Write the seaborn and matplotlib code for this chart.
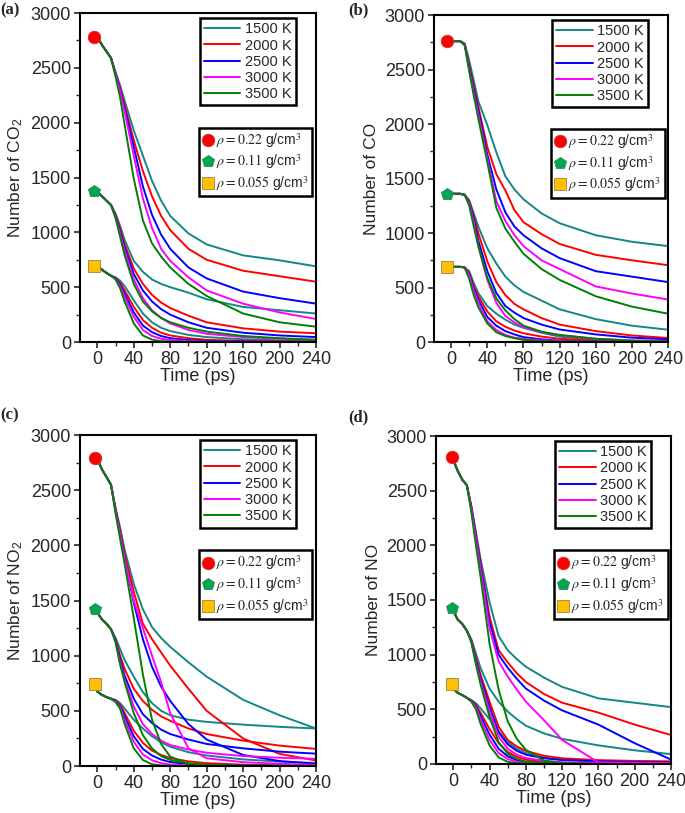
import numpy as np
import pandas as pd
import matplotlib
matplotlib.use('Agg')
import matplotlib.pyplot as plt
import seaborn as sns
from matplotlib.lines import Line2D
from matplotlib.ticker import MultipleLocator
from matplotlib.font_manager import FontProperties

# ---------------- data ----------------
time_ps = [0, 5, 10, 15, 20, 25, 30, 40, 50, 60, 70, 80, 100, 120, 160, 200, 240]
temps = ['1500 K', '2000 K', '2500 K', '3000 K', '3500 K']
densities = ['0.22', '0.11', '0.055']

# (a) CO2, rows = 1500 / 2000 / 2500 / 3000 / 3500 K
co2_rho022 = [
    [2780, 2710, 2650, 2590, 2460, 2340, 2200, 1930, 1700, 1470, 1290, 1150, 990, 890, 790, 745, 690],
    [2780, 2710, 2650, 2590, 2450, 2320, 2160, 1840, 1560, 1330, 1150, 1020, 850, 750, 650, 600, 550],
    [2780, 2710, 2650, 2590, 2450, 2300, 2130, 1780, 1420, 1160, 980, 850, 680, 580, 460, 400, 350],
    [2780, 2710, 2650, 2590, 2440, 2290, 2100, 1700, 1310, 1040, 850, 740, 590, 470, 350, 270, 210],
    [2780, 2710, 2650, 2590, 2420, 2230, 1980, 1490, 1110, 900, 780, 680, 530, 420, 260, 180, 140],
]
co2_rho011 = [
    [1370, 1330, 1290, 1250, 1170, 1060, 930, 740, 640, 570, 530, 500, 450, 390, 320, 290, 260],
    [1370, 1330, 1290, 1250, 1160, 1030, 890, 670, 530, 430, 360, 310, 240, 180, 125, 95, 80],
    [1370, 1330, 1290, 1250, 1150, 1010, 860, 620, 470, 370, 300, 250, 180, 130, 85, 60, 45],
    [1370, 1330, 1290, 1250, 1140, 990, 830, 570, 400, 290, 220, 170, 110, 75, 45, 30, 20],
    [1370, 1330, 1290, 1250, 1130, 960, 790, 530, 370, 280, 220, 180, 130, 95, 55, 35, 20],
]
co2_rho0055 = [
    [690, 660, 630, 605, 590, 560, 510, 380, 260, 180, 130, 100, 65, 45, 25, 15, 10],
    [690, 660, 630, 605, 585, 540, 470, 320, 200, 130, 85, 60, 35, 20, 10, 5, 3],
    [690, 660, 630, 605, 580, 525, 440, 270, 150, 90, 55, 35, 18, 10, 5, 2, 1],
    [690, 660, 630, 605, 575, 510, 410, 230, 110, 55, 30, 18, 8, 4, 2, 1, 0],
    [690, 660, 630, 605, 570, 490, 370, 170, 60, 22, 8, 4, 2, 1, 0, 0, 0],
]

# (b) CO
co_rho022 = [
    [2760, 2760, 2760, 2740, 2580, 2400, 2210, 1990, 1740, 1520, 1400, 1310, 1180, 1090, 980, 920, 880],
    [2760, 2760, 2760, 2730, 2540, 2350, 2160, 1790, 1540, 1390, 1210, 1100, 990, 900, 800, 750, 705],
    [2760, 2760, 2760, 2730, 2520, 2320, 2130, 1720, 1400, 1190, 1060, 980, 860, 770, 650, 600, 550],
    [2760, 2760, 2760, 2730, 2500, 2290, 2090, 1680, 1290, 1110, 980, 880, 750, 670, 510, 445, 390],
    [2760, 2760, 2760, 2720, 2480, 2260, 2050, 1650, 1230, 1040, 920, 810, 670, 570, 420, 325, 260],
]
co_rho011 = [
    [1360, 1360, 1360, 1350, 1300, 1180, 1060, 860, 720, 600, 520, 460, 380, 300, 210, 150, 113],
    [1360, 1360, 1360, 1350, 1290, 1150, 1000, 740, 550, 430, 350, 300, 220, 160, 100, 60, 37],
    [1360, 1360, 1360, 1350, 1280, 1130, 930, 650, 450, 330, 270, 220, 160, 115, 70, 40, 25],
    [1360, 1360, 1360, 1350, 1270, 1100, 880, 570, 360, 240, 180, 135, 90, 62, 30, 15, 10],
    [1360, 1360, 1360, 1350, 1250, 1060, 880, 590, 400, 290, 210, 150, 95, 65, 30, 12, 5],
]
co_rho0055 = [
    [690, 690, 690, 685, 650, 540, 450, 330, 260, 205, 160, 130, 85, 50, 20, 10, 5],
    [690, 690, 690, 685, 630, 510, 420, 280, 190, 140, 105, 80, 50, 30, 12, 5, 2],
    [690, 690, 690, 685, 620, 490, 390, 230, 150, 100, 70, 45, 25, 12, 5, 2, 1],
    [690, 690, 690, 685, 610, 470, 360, 190, 110, 65, 40, 30, 15, 8, 3, 1, 0],
    [690, 690, 690, 680, 580, 430, 320, 170, 90, 55, 35, 20, 10, 5, 2, 0, 0],
]

# (c) NO2
no2_rho022 = [
    [2780, 2690, 2620, 2550, 2340, 2160, 1960, 1650, 1420, 1260, 1160, 1080, 940, 810, 600, 460, 340],
    [2780, 2690, 2620, 2550, 2330, 2140, 1920, 1580, 1290, 1150, 1030, 910, 700, 500, 250, 110, 50],
    [2780, 2690, 2620, 2550, 2320, 2110, 1890, 1480, 1150, 900, 720, 590, 380, 240, 100, 45, 20],
    [2780, 2690, 2620, 2550, 2310, 2100, 1880, 1500, 1250, 1000, 760, 480, 160, 70, 35, 20, 10],
    [2780, 2690, 2620, 2550, 2290, 2060, 1830, 1340, 830, 420, 200, 85, 20, 5, 0, 0, 0],
]
no2_rho011 = [
    [1390, 1330, 1290, 1240, 1160, 1060, 960, 810, 670, 570, 500, 460, 420, 400, 375, 355, 340],
    [1390, 1330, 1290, 1240, 1150, 1000, 880, 700, 590, 510, 450, 410, 340, 290, 230, 185, 155],
    [1390, 1330, 1290, 1240, 1140, 970, 820, 610, 470, 390, 330, 290, 240, 200, 160, 130, 112],
    [1390, 1330, 1290, 1240, 1130, 940, 780, 540, 380, 290, 230, 190, 150, 120, 90, 75, 65],
    [1390, 1330, 1290, 1240, 1120, 920, 760, 480, 280, 160, 90, 55, 25, 12, 5, 2, 0],
]
no2_rho0055 = [
    [675, 645, 625, 610, 600, 570, 520, 420, 340, 270, 215, 175, 125, 95, 60, 40, 28],
    [675, 645, 625, 610, 595, 555, 480, 320, 210, 140, 100, 72, 42, 26, 12, 6, 3],
    [675, 645, 625, 610, 590, 545, 450, 270, 155, 95, 58, 36, 18, 9, 4, 2, 1],
    [675, 645, 625, 610, 585, 535, 420, 220, 105, 52, 26, 13, 5, 2, 1, 0, 0],
    [675, 645, 625, 610, 580, 520, 380, 160, 55, 16, 5, 2, 0, 0, 0, 0, 0],
]

# (d) NO
no_rho022 = [
    [2780, 2680, 2600, 2550, 2360, 2120, 1880, 1480, 1170, 1040, 960, 890, 790, 705, 600, 560, 520],
    [2780, 2680, 2600, 2550, 2350, 2100, 1840, 1350, 1040, 930, 830, 750, 640, 560, 470, 360, 265],
    [2780, 2680, 2600, 2550, 2340, 2080, 1820, 1300, 1000, 880, 780, 690, 580, 490, 360, 190, 40],
    [2780, 2680, 2600, 2550, 2330, 2060, 1790, 1240, 940, 800, 680, 570, 400, 220, 15, 10, 8],
    [2780, 2680, 2600, 2550, 2300, 2000, 1720, 1100, 680, 390, 230, 130, 30, 8, 0, 0, 0],
]
no_rho011 = [
    [1400, 1320, 1280, 1220, 1140, 1010, 880, 690, 570, 480, 410, 350, 280, 230, 170, 125, 90],
    [1400, 1320, 1280, 1220, 1130, 970, 820, 570, 340, 220, 160, 120, 75, 52, 35, 28, 24],
    [1400, 1320, 1280, 1220, 1125, 950, 790, 520, 290, 180, 120, 85, 52, 36, 24, 18, 14],
    [1400, 1320, 1280, 1220, 1120, 930, 760, 480, 250, 140, 85, 55, 28, 16, 9, 6, 4],
    [1400, 1320, 1280, 1220, 1110, 910, 730, 430, 200, 95, 45, 22, 7, 2, 0, 0, 0],
]
no_rho0055 = [
    [690, 650, 630, 605, 585, 555, 510, 410, 300, 200, 140, 100, 60, 40, 20, 10, 5],
    [690, 650, 630, 605, 580, 540, 470, 320, 190, 110, 65, 40, 18, 9, 4, 2, 1],
    [690, 650, 630, 605, 578, 530, 440, 270, 140, 70, 35, 18, 7, 3, 1, 0, 0],
    [690, 650, 630, 605, 575, 520, 410, 220, 100, 45, 20, 9, 3, 1, 0, 0, 0],
    [690, 650, 630, 605, 570, 500, 370, 170, 60, 20, 6, 2, 0, 0, 0, 0, 0],
]

# initial-state markers (time, value per density)
marker_t = [-4, -5, -2, -1]
co2_start = [2780, 1380, 690]
co_start = [2760, 1360, 690]
no2_start = [2790, 1425, 745]
no_start = [2805, 1430, 728]

panel_tags = ['(a)', '(b)', '(c)', '(d)']
ylabels = ['Number of CO$_2$', 'Number of CO', 'Number of NO$_2$', 'Number of NO']

# ---------------- style ----------------
sns.set_style('ticks')
plt.rcParams['font.family'] = ['Liberation Sans', 'DejaVu Sans']
plt.rcParams['mathtext.fontset'] = 'custom'
plt.rcParams['mathtext.rm'] = 'Liberation Sans'
plt.rcParams['mathtext.it'] = 'Liberation Sans:italic'

line_colors = ['#138787', '#ff0000', '#0000ff', '#ff00ff', '#008000']
marker_styles = [('o', '#ff0000', '#cc3333'), ('p', '#00a651', '#2e8b57'), ('s', '#ffc000', '#a08040')]


def panel_frame(groups):
    rows = []
    for rho, curves in zip(densities, groups):
        for temp, vals in zip(temps, curves):
            for t, v in zip(time_ps, vals):
                rows.append((rho, temp, t, v))
    return pd.DataFrame(rows, columns=['rho', 'temp', 'time', 'count'])


panels = [
    (co2_rho022, co2_rho011, co2_rho0055, co2_start),
    (co_rho022, co_rho011, co_rho0055, co_start),
    (no2_rho022, no2_rho011, no2_rho0055, no2_start),
    (no_rho022, no_rho011, no_rho0055, no_start),
]

# axes boxes in figure fractions (left, bottom, width, height)
boxes = [
    [0.1168, 0.5793, 0.3445, 0.4047],
    [0.6336, 0.5793, 0.3416, 0.4022],
    [0.1168, 0.0578, 0.3445, 0.4071],
    [0.6365, 0.0603, 0.3431, 0.4034],
]
tag_pos = [(0.001, 0.997), (0.508, 0.997), (0.001, 0.499), (0.508, 0.496)]

fig = plt.figure(figsize=(6.85, 8.13), dpi=100)

leg_prop = FontProperties(family='Liberation Sans', size=10.5)
rho_prop = FontProperties(family='Liberation Sans', size=10, math_fontfamily='stix')

for i, (g22, g11, g055, starts) in enumerate(panels):
    ax = fig.add_axes(boxes[i])
    df = panel_frame([g22, g11, g055])
    sns.lineplot(data=df, x='time', y='count', hue='temp', hue_order=temps,
                 units='rho', estimator=None, palette=line_colors,
                 linewidth=1.4, legend=False, sort=False, ax=ax)

    for (mk, fc, ec), v in zip(marker_styles, starts):
        ax.plot([marker_t[i]], [v], marker=mk, color=fc, markeredgecolor=ec,
                markeredgewidth=0.6, markersize=9, linestyle='none', zorder=5)

    ax.set_xlim(-19, 240)
    ax.set_ylim(0, 3000)
    ax.xaxis.set_major_locator(MultipleLocator(40))
    ax.xaxis.set_minor_locator(MultipleLocator(20))
    ax.yaxis.set_major_locator(MultipleLocator(500))
    ax.yaxis.set_minor_locator(MultipleLocator(250))
    ax.tick_params(which='major', direction='out', length=4.5, width=1.2,
                   labelsize=13, pad=2)
    ax.tick_params(which='minor', direction='out', length=3, width=1.0)
    for sp in ax.spines.values():
        sp.set_linewidth(1.5)
        sp.set_color('black')
    ax.set_xlabel('Time (ps)', fontsize=13, labelpad=0)
    ax.set_ylabel(ylabels[i], fontsize=12.5, labelpad=4)

    temp_handles = [Line2D([], [], color=c, linewidth=1.4) for c in line_colors]
    leg1 = ax.legend(temp_handles, temps, loc='upper right',
                     bbox_to_anchor=(0.915, 0.985), borderaxespad=0,
                     frameon=True, fancybox=False, edgecolor='black',
                     framealpha=1, prop=leg_prop, handlelength=2.5,
                     handletextpad=0.3, labelspacing=0.15, borderpad=0.3)
    leg1.get_frame().set_linewidth(1.8)
    ax.add_artist(leg1)

    rho_handles = [Line2D([], [], marker=mk, color=fc, markeredgecolor=ec,
                          markeredgewidth=0.6, markersize=9, linestyle='none')
                   for mk, fc, ec in marker_styles]
    rho_labels = [r'$\rho = %s$ g/cm$^3$' % d for d in densities]
    leg2 = ax.legend(rho_handles, rho_labels, loc='upper right',
                     bbox_to_anchor=(0.985, 0.652), borderaxespad=0,
                     frameon=True, fancybox=False, edgecolor='black',
                     framealpha=1, prop=rho_prop, handlelength=0.8,
                     handletextpad=0.2, labelspacing=0.2, borderpad=0.25)
    leg2.get_frame().set_linewidth(1.8)

    fig.text(tag_pos[i][0], tag_pos[i][1], panel_tags[i], ha='left', va='top',
             fontsize=12, fontweight='bold', family='Liberation Serif')

fig.savefig('out.png', dpi=100)
